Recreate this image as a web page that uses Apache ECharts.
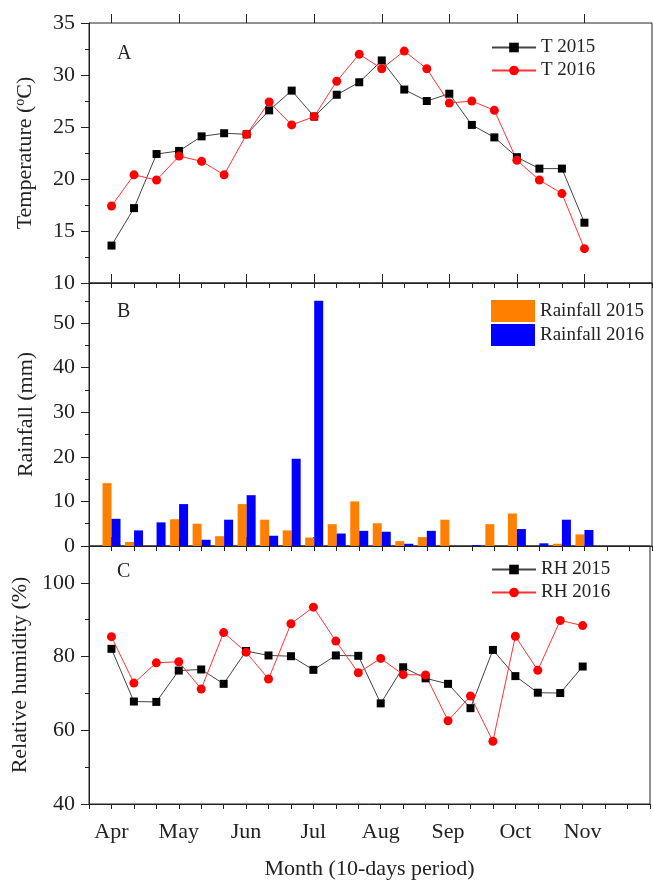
<!DOCTYPE html>
<html>
<head>
<meta charset="utf-8">
<script src="https://cdn.jsdelivr.net/npm/echarts@6/dist/echarts.min.js"></script>
<style>
  html, body { margin: 0; padding: 0; background: #fff; }
  #chart { width: 653px; height: 881px; }
</style>
</head>
<body>
<div id="chart"></div>
<script>
// month labels, one every 3 ten-day periods (Apr 1st decade = period 0)
const months = ["Apr", "May", "Jun", "Jul", "Aug", "Sep", "Oct", "Nov"];

// temperature (°C), 22 ten-day periods
const t2015 = [13.6, 17.2, 22.4, 22.7, 24.1, 24.4, 24.3, 26.6, 28.5, 26.0, 28.1,
  29.3, 31.4, 28.6, 27.5, 28.2, 25.2, 24.0, 22.1, 21.0, 21.0, 15.8];
const t2016 = [17.4, 20.4, 19.9, 22.2, 21.7, 20.4, 24.3, 27.4, 25.2, 26.0, 29.4,
  32.0, 30.6, 32.3, 30.6, 27.3, 27.5, 26.6, 21.8, 19.9, 18.6, 13.3];

// rainfall (mm)
const rain2015 = [14.1, 0.9, 0, 6.0, 5.0, 2.2, 9.4, 5.9, 3.5, 1.9, 4.9,
  10.0, 5.1, 1.1, 2.0, 5.9, 0, 4.9, 7.3, 0, 0.5, 2.6];
const rain2016 = [6.1, 3.5, 5.3, 9.4, 1.4, 5.9, 11.4, 2.3, 19.6, 55.0, 2.8,
  3.4, 3.2, 0.5, 3.4, 0, 0.2, 0, 3.8, 0.6, 5.9, 3.6];

// relative humidity (%)
const rh2015 = [82.1, 67.8, 67.7, 76.2, 76.5, 72.6, 81.5, 80.3, 80.1, 76.4, 80.3,
  80.2, 67.3, 77.1, 74.1, 72.6, 66.0, 81.8, 74.7, 70.2, 70.1, 77.3];
const rh2016 = [85.4, 72.8, 78.3, 78.6, 71.2, 86.5, 81.2, 73.9, 88.9, 93.4, 84.2,
  75.6, 79.5, 75.1, 75.0, 62.6, 69.3, 57.0, 85.5, 76.3, 89.8, 88.4];

const FONT = "Liberation Serif";
const INK = "#222";
const AXIS_FS = 22;

// axis runs from period -1 to period 24
const cats = [];
for (let k = -1; k <= 24; k++) cats.push(String(k));
const pad = (arr) => [null].concat(arr.map((v) => (v === 0 ? null : v)));
const padLine = (arr) => [null].concat(arr);

const isMonth = (idx) => {
  const k = idx - 1;
  return k >= 0 && k % 3 === 0 && k / 3 < months.length;
};

const grids = [
  { left: 89, right: 1, top: 23, height: 260 },
  { left: 89, right: 1, top: 283, height: 263 },
  { left: 89, right: 1, top: 546, height: 262 },
].map((g) => Object.assign(g, { show: true, borderColor: INK, borderWidth: 1 }));

const xAxes = [];
[0, 1, 2].forEach((g) => {
  xAxes.push({
    type: "category",
    gridIndex: g,
    data: cats,
    boundaryGap: false,
    axisLine: { lineStyle: { color: INK, width: 1 } },
    axisTick: { interval: 0, length: 5, lineStyle: { color: INK } },
    axisLabel: {
      show: g === 2,
      interval: 0,
      margin: 17,
      fontFamily: FONT,
      fontSize: AXIS_FS,
      color: INK,
      formatter: (val, idx) => (isMonth(idx) ? months[(idx - 1) / 3] : ""),
    },
    name: g === 2 ? "Month (10-days period)" : "",
    nameLocation: "middle",
    nameGap: 54,
    nameTextStyle: { fontFamily: FONT, fontSize: AXIS_FS, color: INK },
  });
  // longer ticks at the start of each month
  xAxes.push({
    type: "category",
    gridIndex: g,
    data: cats,
    boundaryGap: false,
    axisLine: { show: false },
    axisTick: { interval: (idx) => isMonth(idx), length: 9, lineStyle: { color: INK } },
    axisLabel: { show: false },
  });
});

const yBase = {
  type: "value",
  nameLocation: "middle",
  nameRotate: 90,
  nameGap: 52,
  nameTextStyle: { fontFamily: FONT, fontSize: AXIS_FS, color: INK },
  axisLine: { show: true, lineStyle: { color: INK } },
  axisTick: { show: true, length: 8, lineStyle: { color: INK } },
  minorTick: { show: true, splitNumber: 2, length: 4, lineStyle: { color: INK } },
  splitLine: { show: false },
  axisLabel: { fontFamily: FONT, fontSize: AXIS_FS, color: INK, margin: 14 },
};

const yAxes = [
  Object.assign({}, yBase, {
    gridIndex: 0, min: 10, max: 35, interval: 5,
    name: "Temperature ({sup|o}C)",
    nameTextStyle: Object.assign({}, yBase.nameTextStyle, {
      rich: { sup: { fontFamily: FONT, fontSize: 14, color: INK, padding: [0, 0, 10, 0] } },
    }),
  }),
  Object.assign({}, yBase, {
    gridIndex: 1, min: 0, max: 59, interval: 10,
    name: "Rainfall (mm)",
    axisLabel: Object.assign({}, yBase.axisLabel, {
      formatter: (v) => (v % 10 === 0 ? String(v) : ""),
    }),
  }),
  Object.assign({}, yBase, {
    gridIndex: 2, min: 40, max: 110, interval: 20,
    name: "Relative humidity (%)",
    axisLabel: Object.assign({}, yBase.axisLabel, {
      formatter: (v) => (v % 20 === 0 ? String(v) : ""),
    }),
  }),
];

const legendBase = {
  orient: "vertical",
  left: 486,
  itemWidth: 44,
  itemGap: 4,
  textStyle: { fontFamily: FONT, fontSize: 19, color: INK },
};

const option = {
  animation: false,
  backgroundColor: "#fff",
  grid: grids,
  xAxis: xAxes,
  yAxis: yAxes,
  legend: [
    Object.assign({}, legendBase, { top: 33, itemHeight: 12, data: ["T 2015", "T 2016"] }),
    Object.assign({}, legendBase, {
      top: 295, itemHeight: 22, itemGap: 2, icon: "rect",
      data: ["Rainfall 2015", "Rainfall 2016"],
    }),
    Object.assign({}, legendBase, { top: 555, itemHeight: 12, data: ["RH 2015", "RH 2016"] }),
  ],
  graphic: [
    { type: "text", left: 117, top: 44, style: { text: "A", fontFamily: FONT, fontSize: 20, fill: INK } },
    { type: "text", left: 117, top: 302, style: { text: "B", fontFamily: FONT, fontSize: 20, fill: INK } },
    { type: "text", left: 117, top: 562, style: { text: "C", fontFamily: FONT, fontSize: 20, fill: INK } },
  ],
  series: [
    {
      name: "T 2015", type: "line", xAxisIndex: 0, yAxisIndex: 0, data: padLine(t2015),
      symbol: "rect", symbolSize: 8, itemStyle: { color: "#000" },
      lineStyle: { color: "#444", width: 1 },
    },
    {
      name: "T 2016", type: "line", xAxisIndex: 0, yAxisIndex: 0, data: padLine(t2016),
      symbol: "circle", symbolSize: 9, itemStyle: { color: "#ff0000" },
      lineStyle: { color: "#ff3333", width: 1 },
    },
    {
      name: "Rainfall 2015", type: "bar", xAxisIndex: 2, yAxisIndex: 1, data: pad(rain2015),
      barWidth: 9, barGap: "0%", itemStyle: { color: "#ff8000" },
    },
    {
      name: "Rainfall 2016", type: "bar", xAxisIndex: 2, yAxisIndex: 1, data: pad(rain2016),
      barWidth: 9, barGap: "0%", itemStyle: { color: "#0000ff" },
    },
    {
      name: "RH 2015", type: "line", xAxisIndex: 4, yAxisIndex: 2, data: padLine(rh2015),
      symbol: "rect", symbolSize: 8, itemStyle: { color: "#000" },
      lineStyle: { color: "#444", width: 1 },
    },
    {
      name: "RH 2016", type: "line", xAxisIndex: 4, yAxisIndex: 2, data: padLine(rh2016),
      symbol: "circle", symbolSize: 9, itemStyle: { color: "#ff0000" },
      lineStyle: { color: "#ff3333", width: 1 },
    },
  ],
};

const chart = echarts.init(document.getElementById("chart"), null, { renderer: "canvas" });
chart.setOption(option);
</script>
</body>
</html>
